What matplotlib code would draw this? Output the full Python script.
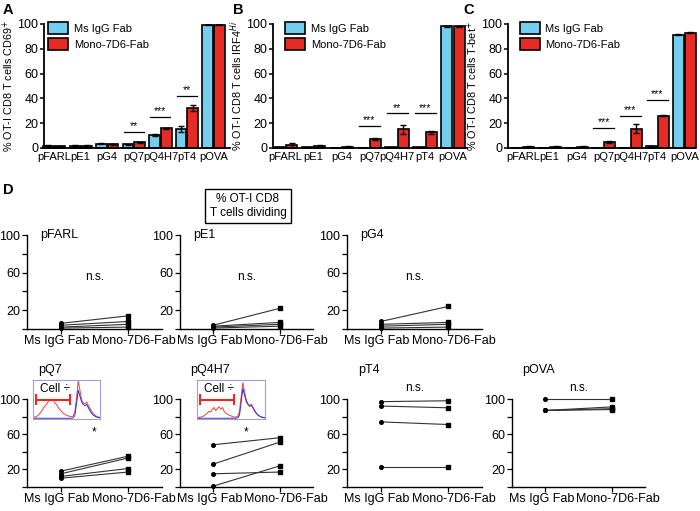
import numpy as np
import matplotlib
matplotlib.use("Agg")
import matplotlib.pyplot as plt
from matplotlib.patches import Patch
from matplotlib.transforms import offset_copy

plt.rcParams['font.family'] = ['Liberation Sans', 'DejaVu Sans']

W, H = 700, 511

# ---- bar panels (A, B, C) ----
peptides = ["pFARL", "pE1", "pG4", "pQ7", "pQ4H7", "pT4", "pOVA"]

a_ms = [2, 2, 3.5, 3, 10.5, 15, 99.5]
a_ms_err = [0.3, 0.3, 0.5, 0.4, 0.6, 2.5, 0.3]
a_mono = [1.5, 2, 3, 4.6, 15.8, 32.5, 99.5]
a_mono_err = [0.3, 0.4, 0.4, 0.5, 0.4, 2.5, 0.3]
a_sig = [(3, "**", 13), (4, "***", 25), (5, "**", 42)]

b_ms = [0.5, 0.5, 0.2, 0.3, 0.5, 0.6, 98]
b_ms_err = [0.2, 0.2, 0.1, 0.1, 0.2, 0.2, 0.3]
b_mono = [2.2, 2, 1, 7.5, 15, 12.5, 98]
b_mono_err = [1.8, 0.8, 0.4, 0.8, 3.5, 1, 0.3]
b_sig = [(3, "***", 18), (4, "**", 28), (5, "***", 28)]

c_ms = [0.2, 0.2, 0.2, 0.2, 0.3, 1.5, 91.5]
c_ms_err = [0.1, 0.1, 0.1, 0.1, 0.1, 0.3, 0.6]
c_mono = [1, 1, 1, 5, 15.5, 26, 93]
c_mono_err = [0.3, 0.3, 0.3, 0.6, 3.5, 0.5, 0.6]
c_sig = [(3, "***", 16), (4, "***", 26), (5, "***", 39)]

# ---- paired panels (D) ----
groups = ["Ms IgG Fab", "Mono-7D6-Fab"]
d_names = ["pFARL", "pE1", "pG4", "pQ7", "pQ4H7", "pT4", "pOVA"]
d_ms = [[6, 4, 2, 1], [4, 3, 2, 1], [8, 5, 3, 1], [18, 15, 12, 10],
        [48, 26, 15, 1], [97, 92, 74, 23], [100, 87, 87, 87]]
d_mono = [[14, 8, 5, 2], [22, 7, 5, 3], [24, 7, 5, 2], [35, 33, 21, 17],
          [56, 51, 17, 24], [98, 90, 71, 23], [100, 91, 89, 88]]
d_sig = ["n.s.", "n.s.", "n.s.", "*", "*", "n.s.", "n.s."]

# inset histograms (dividing cells)
red_q7 = [0.04, 0.05, 0.06, 0.1, 0.14, 0.2, 0.27, 0.33, 0.38, 0.45, 0.52, 0.48, 0.5, 0.42,
          0.38, 0.3, 0.25, 0.2, 0.15, 0.12, 0.1, 0.08, 0.07, 0.06, 0.08, 0.2, 0.55, 1.0, 0.75,
          0.5, 0.42, 0.4, 0.44, 0.36, 0.28, 0.2, 0.14, 0.1, 0.07, 0.05, 0.04]
blue_q7 = [0.02] * 24 + [0.03, 0.1, 0.4, 0.75, 0.6, 0.45, 0.38, 0.35, 0.38, 0.3, 0.22,
                         0.15, 0.1, 0.07, 0.05, 0.04, 0.03]
red_q4 = [0.03, 0.04, 0.05, 0.06, 0.08, 0.12, 0.15, 0.2, 0.18, 0.25, 0.3, 0.22, 0.28, 0.32,
          0.25, 0.3, 0.2, 0.15, 0.12, 0.1, 0.08, 0.06, 0.05, 0.05, 0.08, 0.2, 0.6, 0.95, 0.7,
          0.5, 0.4, 0.35, 0.38, 0.3, 0.22, 0.15, 0.1, 0.07, 0.05, 0.04, 0.03]
blue_q4 = [0.02] * 24 + [0.03, 0.1, 0.45, 0.8, 0.62, 0.45, 0.38, 0.33, 0.36, 0.28, 0.2,
                         0.14, 0.1, 0.07, 0.05, 0.04, 0.03]

BLUE = "#74CFEF"
RED = "#E62A24"

fig = plt.figure(figsize=(W / 100, H / 100), dpi=100)


def px_axes(x0, y0, x1, y1):
    return fig.add_axes([x0 / W, 1 - y1 / H, (x1 - x0) / W, (y1 - y0) / H])


def bar_panel(box, xlim, ms, ms_err, mono, mono_err, sig, ylab, letter, leg_x):
    ax = px_axes(*box)
    x = np.arange(len(peptides))
    w = 0.4
    ekw = dict(ecolor="black", elinewidth=1, capsize=2.5, capthick=1)
    ax.bar(x - 0.22, ms, w, yerr=ms_err, color=BLUE, edgecolor="black", linewidth=1.2,
           error_kw=ekw, clip_on=False)
    ax.bar(x + 0.22, mono, w, yerr=mono_err, color=RED, edgecolor="black", linewidth=1.2,
           error_kw=ekw, clip_on=False)
    for i, stars, y in sig:
        ax.plot([i - 0.38, i + 0.38], [y, y], color="black", lw=0.9)
        ax.text(i, y + 0.5, stars, ha="center", va="bottom", fontsize=7.5)
    ax.set_xlim(*xlim)
    ax.set_ylim(0, 100)
    ax.set_yticks([0, 20, 40, 60, 80, 100])
    ax.set_xticks(x)
    ax.set_xticklabels(peptides, fontsize=8)
    ax.tick_params(axis="x", length=0, pad=3)
    ax.tick_params(axis="y", labelsize=9, length=3, width=1.1, pad=1)
    for s in ["top", "right"]:
        ax.spines[s].set_visible(False)
    for s in ["left", "bottom"]:
        ax.spines[s].set_linewidth(1.3)
    ax.set_ylabel(ylab, fontsize=7.8, labelpad=1)
    handles = [Patch(facecolor=BLUE, edgecolor="black", linewidth=1.2),
               Patch(facecolor=RED, edgecolor="black", linewidth=1.2)]
    ax.legend(handles, ["Ms IgG Fab", "Mono-7D6-Fab"], loc="upper left",
              bbox_to_anchor=(leg_x, 1.05), frameon=False, fontsize=8,
              handlelength=1.8, handleheight=1.2, handletextpad=0.5, labelspacing=0.4,
              borderaxespad=0)
    fig.text(letter[1] / W, 1 - letter[2] / H, letter[0], fontsize=10.5,
             fontweight="bold", va="center", ha="left")
    return ax


bar_panel((44, 24, 230, 148), (-0.38, 6.62), a_ms, a_ms_err, a_mono, a_mono_err, a_sig,
          "% OT-I CD8 T cells CD69$^{+}$", ("A", 3, 10), 0.0)
bar_panel((273, 24, 467, 148), (-0.45, 6.5), b_ms, b_ms_err, b_mono, b_mono_err, b_sig,
          "% OT-I CD8 T cells IRF4$^{Hi}$", ("B", 233, 10), 0.04)
bar_panel((508, 24, 695, 148), (-0.55, 6.4), c_ms, c_ms_err, c_mono, c_mono_err, c_sig,
          "% OT-I CD8 T cells T-bet$^{+}$", ("C", 463, 10), 0.04)

fig.text(3 / W, 1 - 190 / H, "D", fontsize=10.5, fontweight="bold", va="center")
fig.text(248 / W, 1 - 206 / H, "% OT-I CD8\nT cells dividing", fontsize=8.5,
         ha="center", va="center", linespacing=1.2,
         bbox=dict(boxstyle="square,pad=0.35", fc="white", ec="black", lw=1))

d_boxes = [(27, 235, 162, 329), (180, 235, 313, 329), (347, 235, 482, 329),
           (27, 399, 162, 487), (180, 399, 313, 487), (347, 399, 482, 487),
           (512, 399, 645, 487)]

for k, name in enumerate(d_names):
    ax = px_axes(*d_boxes[k])
    for a, b in zip(d_ms[k], d_mono[k]):
        ax.plot([0, 1], [a, b], color="#333333", lw=0.8, clip_on=False)
        ax.plot(0, a, "o", color="black", ms=2.6, clip_on=False)
        ax.plot(1, b, "s", color="black", ms=3, clip_on=False)
    ax.set_xlim(-0.5, 1.5)
    ax.set_ylim(0, 100)
    ax.set_yticks([20, 60, 100])
    ax.set_yticks([0, 40, 80], minor=True)
    ax.set_xticks([0, 1])
    ax.set_xticklabels([])
    ax.tick_params(axis="y", which="both", labelsize=9, length=3.5, width=0.9, pad=1.5)
    ax.tick_params(axis="x", length=3.5, width=0.9)
    # group labels, nudged apart as in the original layout
    for gx, gname, dx in [(0, groups[0], -4), (1, groups[1], 6)]:
        tr = offset_copy(ax.get_xaxis_transform(), fig=fig, x=dx, y=-12, units="dots")
        ax.text(gx, 0, gname, transform=tr, ha="center", va="center", fontsize=9)
    for s in ["top", "right"]:
        ax.spines[s].set_visible(False)
    for s in ["left", "bottom"]:
        ax.spines[s].set_linewidth(1.0)
    if k < 3:
        ax.text(0.1, 1.0, name, transform=ax.transAxes, fontsize=9, va="center")
        ax.text(0.5, 55, d_sig[k], ha="center", va="center", fontsize=8.5)
    else:
        ax.text(0.08, 1.33, name, transform=ax.transAxes, fontsize=9, va="center")
        if d_sig[k] == "*":
            ax.text(0.5, 62, d_sig[k], ha="center", va="center", fontsize=8.5)
        else:
            ax.text(0.5, 1.125, d_sig[k], transform=ax.transAxes, ha="center",
                    va="center", fontsize=8.5)

# insets with dye-dilution histograms
for box, red, blue in [((33, 380, 100, 419), red_q7, blue_q7),
                       ((197, 380, 265, 419), red_q4, blue_q4)]:
    ins = px_axes(*box)
    hx = np.arange(len(red))
    ins.plot(hx, red, color="#F04040", lw=0.7)
    ins.plot(hx, blue, color="#3030D0", lw=0.7)
    ins.set_xlim(0, len(red) - 1)
    ins.set_ylim(0, 1.02)
    ins.set_xticks([])
    ins.set_yticks([])
    for s in ins.spines.values():
        s.set_color("#A0A0D8")
        s.set_linewidth(0.8)
    ins.plot([0.05, 0.55], [0.5, 0.5], color=RED, lw=1.5, transform=ins.transAxes)
    ins.plot([0.05, 0.05], [0.38, 0.62], color=RED, lw=1.5, transform=ins.transAxes)
    ins.plot([0.55, 0.55], [0.38, 0.62], color=RED, lw=1.5, transform=ins.transAxes)
    ins.text(0.1, 0.78, "Cell \u00f7", transform=ins.transAxes, fontsize=8.5, va="center")

fig.savefig("out.png", dpi=100)
